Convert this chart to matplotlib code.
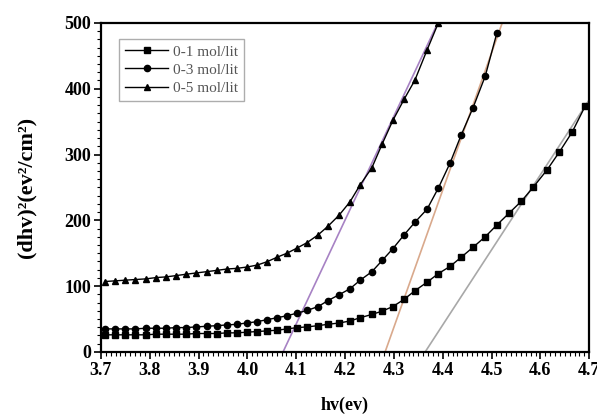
import matplotlib
matplotlib.use("Agg")
from matplotlib import pyplot as plt
from matplotlib.ticker import MultipleLocator, AutoMinorLocator

plt.rcParams['font.family'] = ['Liberation Serif', 'DejaVu Serif']

# photon energy grid (eV)
hv = [3.708, 3.729, 3.749, 3.770, 3.792, 3.813, 3.833, 3.854, 3.874, 3.895,
      3.917, 3.938, 3.958, 3.978, 3.999, 4.020, 4.040, 4.061, 4.081, 4.102,
      4.122, 4.145, 4.165, 4.188, 4.210, 4.231, 4.255, 4.276, 4.298, 4.321,
      4.343, 4.368, 4.391, 4.415, 4.438, 4.462, 4.487, 4.511, 4.536, 4.561,
      4.585, 4.614, 4.639, 4.665, 4.692]

# (alpha*hv)^2 values
y_01 = [26, 26, 26, 26, 26, 27, 27, 27, 27, 28, 28, 28, 29, 29, 30,
        31, 32, 33, 35, 37, 38, 40, 42, 44, 47, 52, 57, 62, 69, 80,
        93, 106, 119, 130, 144, 159, 175, 193, 211, 229, 250, 277, 304, 334, 374]
y_03 = [35, 35, 35, 35, 36, 36, 36, 37, 37, 38, 39, 40, 41, 42, 44,
        46, 49, 52, 55, 59, 63, 69, 78, 87, 96, 109, 122, 139, 157, 178,
        197, 217, 249, 287, 330, 371, 419, 485]
y_05 = [107, 108, 109, 110, 111, 113, 114, 116, 118, 120, 122, 124, 126, 127, 129,
        132, 137, 144, 150, 158, 166, 178, 191, 208, 228, 254, 280, 316, 352, 384,
        413, 459, 500]

labels = ['0-1 mol/lit', '0-3 mol/lit', '0-5 mol/lit']

# linear extrapolation lines (two points each)
fit_01_x = [4.364, 4.72]
fit_01_y = [0, 406]
fit_03_x = [4.282, 4.53]
fit_03_y = [0, 517]
fit_05_x = [4.073, 4.40]
fit_05_y = [0, 516]

fig = plt.figure(figsize=(5.97, 4.16), dpi=100)
ax = fig.add_axes([0.169, 0.154, 0.818, 0.791])

ax.plot(fit_01_x, fit_01_y, color='#a8a8a8', lw=1.2)
ax.plot(fit_03_x, fit_03_y, color='#d9a98c', lw=1.2)
ax.plot(fit_05_x, fit_05_y, color='#a782c4', lw=1.2)

ax.plot(hv[:len(y_01)], y_01, '-s', color='black', lw=1, ms=4.2, label=labels[0])
ax.plot(hv[:len(y_03)], y_03, '-o', color='black', lw=1, ms=4.5, label=labels[1])
ax.plot(hv[:len(y_05)], y_05, '-^', color='black', lw=1, ms=4.5, label=labels[2])

ax.set_xlim(3.7, 4.7)
ax.set_ylim(0, 500)
ax.xaxis.set_major_locator(MultipleLocator(0.1))
ax.xaxis.set_minor_locator(MultipleLocator(0.01))
ax.yaxis.set_major_locator(MultipleLocator(100))
ax.yaxis.set_minor_locator(AutoMinorLocator(8))
ax.set_xticklabels([f'{v:.1f}' for v in ax.get_xticks()])

ax.tick_params(which='major', direction='out', length=5, width=1.2, labelsize=13, pad=2)
ax.tick_params(which='minor', direction='out', length=3, width=0.8)
for lab in ax.get_xticklabels() + ax.get_yticklabels():
    lab.set_fontweight('bold')
for s in ax.spines.values():
    s.set_linewidth(1.6)

ax.set_xlabel('hv(ev)', fontsize=13, fontweight='bold', labelpad=13)
ax.set_ylabel('(dhv)²(ev²/cm²)', fontsize=16, fontweight='bold', labelpad=20)

leg = ax.legend(loc='upper left', bbox_to_anchor=(0.022, 0.975), fontsize=11,
                frameon=True, fancybox=False, edgecolor='#999999',
                handlelength=2.8, handletextpad=0.3, borderpad=0.4, labelspacing=0.3)
leg.get_frame().set_linewidth(1.0)
for t in leg.get_texts():
    t.set_color('#555555')

fig.savefig('out.png', dpi=100)
